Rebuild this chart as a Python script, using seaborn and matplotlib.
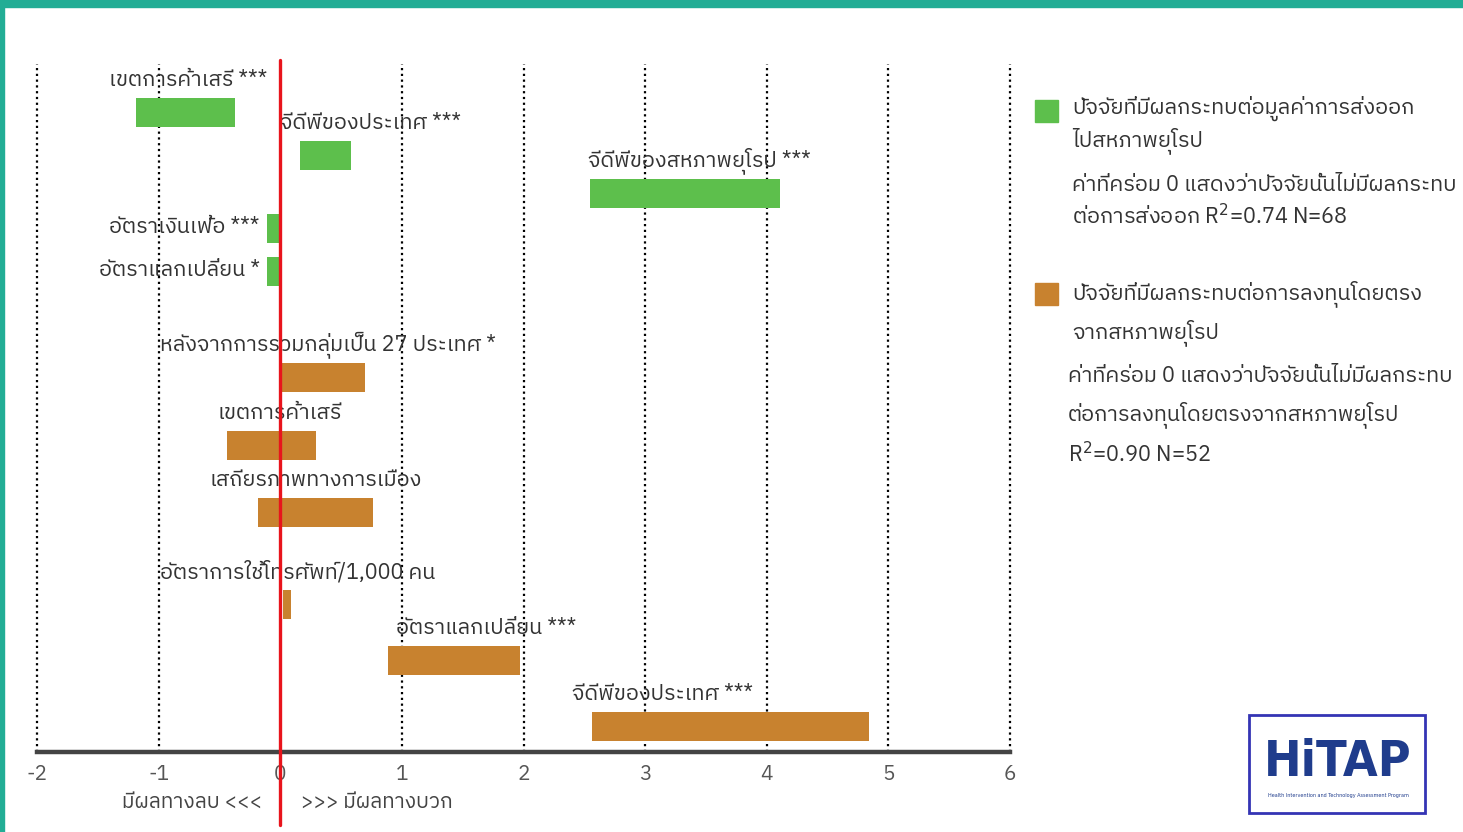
import numpy as np
import pandas as pd
import matplotlib
matplotlib.use("Agg")
import matplotlib.pyplot as plt
import seaborn as sns
from matplotlib import font_manager
from matplotlib.patches import Rectangle

# ---------------------------------------------------------------------------
# Data
# ---------------------------------------------------------------------------
export_labels = ["เขตการค้าเสรี ***", "จีดีพีของประเทศ ***", "จีดีพีของสหภาพยุโรป ***",
                 "อัตราเงินเฟ้อ ***", "อัตราแลกเปลี่ยน *"]
export_lo = [-1.19, 0.16, 2.55, -0.11, -0.11]
export_hi = [-0.37, 0.58, 4.11, 0.0, 0.0]

fdi_labels = ["หลังจากการรวมกลุ่มเป็น 27 ประเทศ *", "เขตการค้าเสรี", "เสถียรภาพทางการเมือง",
              "อัตราการใช้โทรศัพท์/1,000 คน", "อัตราแลกเปลี่ยน ***", "จีดีพีของประเทศ ***"]
fdi_lo = [0.0, -0.44, -0.18, 0.02, 0.89, 2.56]
fdi_hi = [0.70, 0.29, 0.76, 0.09, 1.97, 4.84]

x_ticks = [-2, -1, 0, 1, 2, 3, 4, 5, 6]

legend_export = ["ปัจจัยที่มีผลกระทบต่อมูลค่าการส่งออก", "ไปสหภาพยุโรป",
                 "ค่าที่คร่อม 0 แสดงว่าปัจจัยนั้นไม่มีผลกระทบ", "ต่อการส่งออก R$^2$=0.74 N=68"]
legend_fdi = ["ปัจจัยที่มีผลกระทบต่อการลงทุนโดยตรง", "จากสหภาพยุโรป",
              "ค่าที่คร่อม 0 แสดงว่าปัจจัยนั้นไม่มีผลกระทบ", "ต่อการลงทุนโดยตรงจากสหภาพยุโรป",
              "R$^2$=0.90 N=52"]

# ---------------------------------------------------------------------------
# Layout (rows in axis units, top of plot = 55, axis line = 752)
# ---------------------------------------------------------------------------
export_rows = [112, 155, 193, 228, 271]
fdi_rows = [377, 445, 512, 604, 660, 726]
BAR_H = 29
# label anchor (x in data units, alignment, placed above bar or beside it)
export_lab = [(-1.41, "left", "above"), (0.0, "left", "above"), (2.53, "left", "above"),
              (-0.17, "right", "side"), (-0.17, "right", "side")]
fdi_lab = [(-0.99, "left", "above"), (-0.52, "left", "above"), (-0.58, "left", "above"),
           (-0.99, "left", "above"), (0.95, "left", "above"), (2.40, "left", "above")]

GREEN = "#5dbf4c"
ORANGE = "#c8822f"
TEAL = "#22ad95"

sns.set_theme(style="white")

# pick a Thai-capable sans font
names = {f.name for f in font_manager.fontManager.ttflist}
THAI = next((n for n in ["IBM Plex Sans Thai", "Noto Sans Thai", "Kanit", "Prompt", "Bai Jamjuree"]
             if n in names), "DejaVu Sans")
plt.rcParams["font.family"] = [THAI, "DejaVu Sans"]

W, H = 1463, 832
fig = plt.figure(figsize=(W / 100, H / 100), dpi=100)
ax = fig.add_axes([37 / W, 1 - 752 / H, (1010 - 37) / W, (752 - 55) / H])


def draw_group(labels, lo, hi, rows, color):
    df = pd.DataFrame({"factor": labels, "lo": lo, "hi": hi, "row": rows})
    df["span"] = df["hi"] - df["lo"]
    df = df.sort_values("row")
    native = np.diff(df["row"]).min()
    sns.barplot(data=df, x="span", y="row", orient="y", native_scale=True,
                left=df["lo"].to_numpy(), width=BAR_H / native, color=color,
                saturation=1, errorbar=None, linewidth=0, zorder=3, ax=ax)
    return df


draw_group(export_labels, export_lo, export_hi, export_rows, GREEN)
draw_group(fdi_labels, fdi_lo, fdi_hi, fdi_rows, ORANGE)

for labels, rows, lab in [(export_labels, export_rows, export_lab), (fdi_labels, fdi_rows, fdi_lab)]:
    for text, row, (lx, ha, pos) in zip(labels, rows, lab):
        ly = row - 32 if pos == "above" else row - 1
        ax.text(lx, ly, text, ha=ha, va="center", fontsize=15.6, color="#333333", zorder=4)

# dotted grid lines and zero line
for t in x_ticks:
    if t != 0:
        ax.axvline(t, ymin=0, ymax=(752 - 64) / (752 - 55), color="black",
                   linestyle=(0, (1, 1.6)), linewidth=1.6, zorder=1, clip_on=False)
ax.axvline(0, ymin=-(825 - 752) / (752 - 55), ymax=(752 - 60) / (752 - 55),
           color="#e8141c", linewidth=2.4, zorder=5, clip_on=False)

ax.set_xlim(-2, 6)
ax.set_ylim(752, 55)
ax.set_xticks(x_ticks)
ax.set_xticklabels([str(t) for t in x_ticks], fontsize=15, color="#555555")
ax.tick_params(axis="x", length=0, pad=9)
ax.set_yticks([])
ax.set_xlabel("")
ax.set_ylabel("")
for s in ["top", "right", "left"]:
    ax.spines[s].set_visible(False)
ax.spines["bottom"].set_color("#444444")
ax.spines["bottom"].set_linewidth(3.2)
ax.patch.set_alpha(0)

ax.text(-0.15, 802, "มีผลทางลบ <<<", ha="right", va="center", fontsize=15,
        color="#444444", clip_on=False)
ax.text(0.17, 802, ">>> มีผลทางบวก", ha="left", va="center", fontsize=15,
        color="#444444", clip_on=False)

# legend block
def fig_xy(px, py):
    return px / W, 1 - py / H


for color, sq_y, lines, ys, xs in [
        (GREEN, 111, legend_export, [108, 141, 185, 217], [1072, 1072, 1072, 1072]),
        (ORANGE, 294, legend_fdi, [294, 333, 376, 415, 455], [1072, 1072, 1068, 1068, 1068])]:
    fig.patches.append(Rectangle(fig_xy(1035, sq_y + 11), 23 / W, 22 / H, color=color,
                                 transform=fig.transFigure, figure=fig))
    for txt, y, x in zip(lines, ys, xs):
        fig.text(*fig_xy(x, y), txt, ha="left", va="center", fontsize=15.7, color="#333333")

# teal frame
fig.patches.append(Rectangle((0, 1 - 7 / H), 1, 7 / H, color=TEAL, transform=fig.transFigure, figure=fig))
fig.patches.append(Rectangle((0, 0), 4 / W, 1, color=TEAL, transform=fig.transFigure, figure=fig))

# HiTAP logo box
fig.patches.append(Rectangle(fig_xy(1249, 813), 176 / W, 98 / H, fill=False, edgecolor="#3434b4",
                             linewidth=2, transform=fig.transFigure, figure=fig))
fig.text(*fig_xy(1338, 762), "HiTAP", ha="center", va="center", fontsize=36, fontweight="bold",
         color="#1f3c8c", family="DejaVu Sans", stretch="condensed")
fig.text(*fig_xy(1338, 795), "Health Intervention and Technology Assessment Program", ha="center",
         va="center", fontsize=3.5, color="#1f3c8c", family="DejaVu Sans")

fig.savefig("out.png", dpi=100)
